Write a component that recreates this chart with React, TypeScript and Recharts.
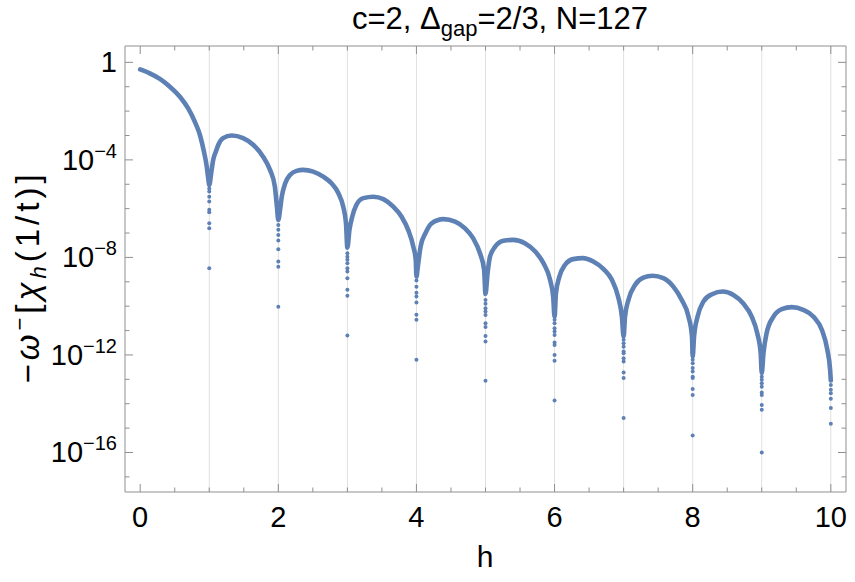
import React from "react";
import { ComposedChart, Line, Scatter, XAxis, YAxis, ReferenceLine } from "recharts";

// log10 values, [h, log10 value]
const arch0: [number, number][] = [
  [0, -0.29], [0.14, -0.45], [0.285, -0.68], [0.43, -1.0], [0.575, -1.41], [0.695, -1.89],
  [0.79, -2.43], [0.865, -2.98], [0.923, -3.66], [0.96, -4.21], [0.985, -4.75], [1.0, -5.03],
];
const arch1: [number, number][] = [
  [1.03, -4.5], [1.057, -4.0], [1.096, -3.66], [1.13, -3.39], [1.2, -3.11], [1.324, -3.0],
  [1.49, -3.11], [1.64, -3.39], [1.78, -3.87], [1.88, -4.41], [1.95, -5.1], [1.98, -5.92], [2.0, -6.46],
];
const arch2: [number, number][] = [
  [2.025, -6.05], [2.05, -5.51], [2.1, -4.96], [2.17, -4.62], [2.265, -4.45], [2.36, -4.41],
  [2.505, -4.48], [2.65, -4.69], [2.77, -4.96], [2.87, -5.37], [2.94, -5.92], [2.98, -6.6], [3.0, -7.6],
];
const arch3: [number, number][] = [
  [3.03, -6.87], [3.07, -6.33], [3.13, -5.85], [3.23, -5.57], [3.375, -5.51], [3.52, -5.61],
  [3.665, -5.92], [3.785, -6.33], [3.88, -6.87], [3.955, -7.56], [3.99, -8.1], [4.0, -8.79],
];
const arch4: [number, number][] = [
  [4.02, -8.38], [4.06, -7.56], [4.13, -7.01], [4.22, -6.6], [4.39, -6.43], [4.56, -6.53],
  [4.7, -6.8], [4.82, -7.21], [4.92, -7.83], [4.98, -8.51], [5.0, -9.5],
];
const arch5: [number, number][] = [
  [5.03, -8.65], [5.065, -7.97], [5.14, -7.56], [5.26, -7.32], [5.4, -7.28], [5.57, -7.42],
  [5.72, -7.76], [5.84, -8.24], [5.935, -8.92], [5.98, -9.61], [6.0, -10.43],
];
const arch6: [number, number][] = [
  [6.02, -9.47], [6.07, -8.79], [6.15, -8.31], [6.27, -8.07], [6.41, -8.03], [6.56, -8.17],
  [6.71, -8.48], [6.83, -8.92], [6.92, -9.61], [6.975, -10.43], [7.0, -11.25],
];
const arch7: [number, number][] = [
  [7.02, -10.43], [7.07, -9.74], [7.165, -9.13], [7.285, -8.83], [7.42, -8.75], [7.575, -8.85],
  [7.72, -9.2], [7.84, -9.74], [7.94, -10.43], [7.99, -11.25], [8.0, -12.07],
];
const arch8: [number, number][] = [
  [8.02, -11.25], [8.07, -10.43], [8.155, -9.81], [8.28, -9.51], [8.435, -9.4], [8.59, -9.54],
  [8.73, -9.88], [8.855, -10.43], [8.935, -11.11], [8.985, -11.93], [9.0, -12.75],
];
const arch9: [number, number][] = [
  [9.025, -11.93], [9.07, -11.11], [9.17, -10.43], [9.29, -10.12], [9.435, -10.04], [9.6, -10.15],
  [9.75, -10.43], [9.87, -10.97], [9.95, -11.79], [9.99, -12.61], [10.0, -13.05],
];

// loose points under each zero, h = 1..10
const dipH = [1, 2, 3, 4, 5, 6, 7, 8, 9, 10];
const dip1 = [-5.17, -5.3, -5.51, -5.71, -6.05, -6.15, -6.6, -6.8, -8.44];
const dip2 = [-6.67, -6.87, -7.08, -7.31, -7.66, -8.17, -8.38, -10.02];
const dip3 = [-7.83, -7.97, -8.1, -8.24, -8.44, -8.58, -8.85, -9.33, -9.57, -11.2];
const dip4 = [-8.95, -9.2, -9.45, -9.6, -9.85, -10.35, -10.56, -12.2];
const dip5 = [-9.75, -9.9, -10.08, -10.22, -10.36, -10.7, -10.85, -11.22, -11.45, -13.06];
const dip6 = [-10.56, -10.7, -10.9, -11.04, -11.18, -11.49, -11.59, -12.0, -12.24, -13.87];
const dip7 = [-11.38, -11.52, -11.66, -11.86, -11.93, -12.13, -12.27, -12.72, -12.95, -14.59];
const dip8 = [-12.2, -12.34, -12.54, -12.68, -12.89, -12.95, -13.4, -13.64, -15.3];
const dip9 = [-12.89, -13.02, -13.16, -13.3, -13.54, -13.64, -14.05, -14.25, -16.0];
const dip10 = [-13.23, -13.43, -13.57, -13.8, -14.18, -14.82];
const dips = [dip1, dip2, dip3, dip4, dip5, dip6, dip7, dip8, dip9, dip10];

const xTicks = [0, 0.5, 1, 1.5, 2, 2.5, 3, 3.5, 4, 4.5, 5, 5.5, 6, 6.5, 7, 7.5, 8, 8.5, 9, 9.5, 10];
const xLabelTicks = [0, 2, 4, 6, 8, 10];
const yTicks = [-17, -16, -15, -14, -13, -12, -11, -10, -9, -8, -7, -6, -5, -4, -3, -2, -1, 0];
const gridH = [1, 2, 3, 4, 5, 6, 7, 8, 9, 10];

const BLUE = "#5e81b5";
const FRAME = "#8f8f8f";
const FONT = "'Liberation Sans', Arial, sans-serif";

const curve = [...arch0, ...arch1, ...arch2, ...arch3, ...arch4, ...arch5, ...arch6, ...arch7, ...arch8, ...arch9]
  .map(([h, v]) => ({ h, v }));
const dipPoints = dips.flatMap((d, i) => d.map((v) => ({ h: dipH[i], v })));

const BottomTick = ({ x, y, payload }: any) => {
  const major = xLabelTicks.includes(payload.value);
  return (
    <g>
      <line x1={x} x2={x} y1={y} y2={y - (major ? 8 : 4.5)} stroke={FRAME} />
      {major && (
        <text x={x} y={y + 35} textAnchor="middle" fontSize={29} fontFamily={FONT} fill="#000">
          {payload.value}
        </text>
      )}
    </g>
  );
};

const TopTick = ({ x, y, payload }: any) => {
  const major = xLabelTicks.includes(payload.value);
  return <line x1={x} x2={x} y1={y} y2={y + (major ? 8 : 4.5)} stroke={FRAME} />;
};

const LeftTick = ({ x, y, payload }: any) => {
  const v = payload.value;
  const major = v % 4 === 0;
  return (
    <g>
      <line x1={x} x2={x + (major ? 8 : 4.5)} y1={y} y2={y} stroke={FRAME} />
      {major && (
        <text x={x - 8} y={y + 10} textAnchor="end" fontSize={29} fontFamily={FONT} fill="#000">
          {v === 0 ? "1" : (
            <>
              10<tspan fontSize={20} dy={-12}>{"\u2212" + -v}</tspan>
            </>
          )}
        </text>
      )}
    </g>
  );
};

const RightTick = ({ x, y, payload }: any) => {
  const major = payload.value % 4 === 0;
  return <line x1={x} x2={x - (major ? 8 : 4.5)} y1={y} y2={y} stroke={FRAME} />;
};

const Dot = (p: any) => <circle cx={p.cx} cy={p.cy} r={2} fill={BLUE} />;

export default function App() {
  return (
    <div style={{ position: "absolute", left: 0, top: 0, width: 855, height: 582, background: "#fff" }}>
      <ComposedChart width={855} height={582} data={curve} margin={{ top: 45, right: 8, bottom: 50, left: 45 }}>
        <XAxis xAxisId="b" type="number" dataKey="h" domain={[-0.22, 10.22]} ticks={xTicks} interval={0}
          height={40} tickSize={0} tickMargin={0} tickLine={false} stroke={FRAME} tick={BottomTick} allowDataOverflow />
        <XAxis xAxisId="t" orientation="top" type="number" dataKey="h" domain={[-0.22, 10.22]} ticks={xTicks} interval={0}
          height={1} tickSize={0} tickMargin={0} tickLine={false} stroke={FRAME} tick={TopTick} allowDataOverflow />
        <YAxis yAxisId="l" type="number" dataKey="v" domain={[-17.62, 0.67]} ticks={yTicks} interval={0}
          width={80} tickSize={0} tickMargin={0} tickLine={false} stroke={FRAME} tick={LeftTick} allowDataOverflow />
        <YAxis yAxisId="r" orientation="right" type="number" dataKey="v" domain={[-17.62, 0.67]} ticks={yTicks} interval={0}
          width={1} tickSize={0} tickMargin={0} tickLine={false} stroke={FRAME} tick={RightTick} allowDataOverflow />
        {gridH.map((g) => (
          <ReferenceLine key={g} xAxisId="b" yAxisId="l" x={g} stroke="#e0e0e0" strokeWidth={1} />
        ))}
        <Line xAxisId="b" yAxisId="l" type="monotone" dataKey="v" stroke={BLUE} strokeWidth={4.6}
          strokeLinecap="round" strokeLinejoin="round" dot={false} isAnimationActive={false} />
        <Scatter xAxisId="b" yAxisId="l" data={dipPoints} dataKey="v" shape={Dot} isAnimationActive={false} />
      </ComposedChart>
      <svg width={855} height={582} style={{ position: "absolute", left: 0, top: 0, pointerEvents: "none" }}>
        <text x={500} y={29} textAnchor="middle" fontSize={31} fontFamily={FONT} fill="#000">
          c=2, Δ<tspan fontSize={22} dy={7}>gap</tspan><tspan dy={-7}>=2/3, N=127</tspan>
        </text>
        <text x={485} y={567} textAnchor="middle" fontSize={30} fontFamily={FONT} fill="#000">h</text>
        <text transform="translate(39,277) rotate(-90)" textAnchor="middle" fontSize={33} fontFamily={FONT}
          letterSpacing={4} fill="#000">
          −<tspan fontStyle="italic">ω</tspan><tspan fontSize={22} dy={-12}>−</tspan>
          <tspan dy={12}>[</tspan><tspan fontStyle="italic">χ</tspan>
          <tspan fontSize={22} dy={7} fontStyle="italic">h</tspan><tspan dy={-7}>(1/t)]</tspan>
        </text>
      </svg>
    </div>
  );
}
